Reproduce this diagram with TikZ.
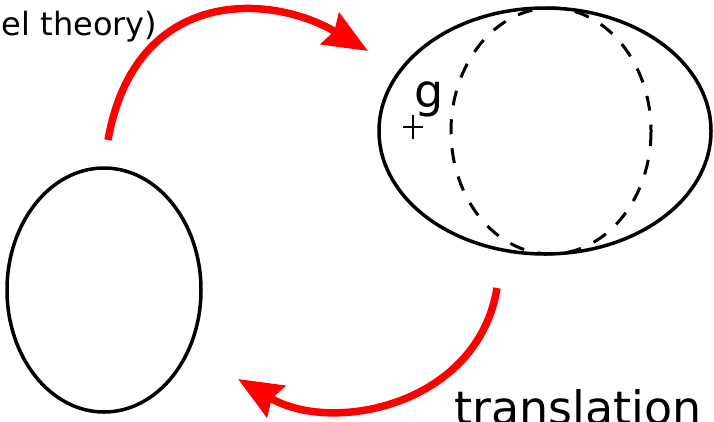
\documentclass[tikz,border=0pt]{standalone}
\usepackage{fontspec}
\setmainfont{DejaVu Sans}
\usetikzlibrary{arrows.meta, positioning, shapes.geometric}

\begin{document}
\begin{tikzpicture}[
    x=1pt, y=-1pt,
    >={Stealth[length=44pt, width=36pt, inset=5pt]},
    shapeline/.style={draw=black, line width=3.5pt},
    mapping/.style={->, draw=red, line width=7.5pt}
  ]
  \clip (0,0) rectangle (714,421);

  % Shapes
  \draw[shapeline] (104,290) ellipse [x radius=97, y radius=122];
  \draw[shapeline] (545,131) ellipse [x radius=166, y radius=123];
  \draw[line width=3pt, dash pattern=on 15pt off 14pt] (551,131) ellipse [x radius=100, y radius=123];

  % Point g
  \coordinate (gpt) at (413,127);
  \draw[line width=1.3pt] ([xshift=-10pt]gpt) -- ([xshift=10pt]gpt);
  \draw[line width=1.3pt] ([yshift=-12pt]gpt) -- ([yshift=12pt]gpt);
  \node[font=\fontsize{46}{55}\selectfont, anchor=base west, inner sep=0pt] (glabel) at (414,107) {g};

  % Labels
  \node[font=\fontsize{32}{38}\selectfont, anchor=base east, inner sep=0pt] (theorylabel) at (157.5,35) {el theory)};
  \node[font=\fontsize{46}{55}\selectfont, anchor=base west, inner sep=0pt] (translabel) at (454,424) {translation};

  % Arrows
  \coordinate (upstart) at (108,140);
  \coordinate (upend) at (368,51);
  \coordinate (downstart) at (497,288);
  \coordinate (downend) at (238,379);
  \draw[mapping] (upstart) .. controls (135,-12) and (268,-8) .. (upend);
  \draw[mapping] (downstart) .. controls (478,405) and (333,435) .. (downend);

\end{tikzpicture}
\end{document}
